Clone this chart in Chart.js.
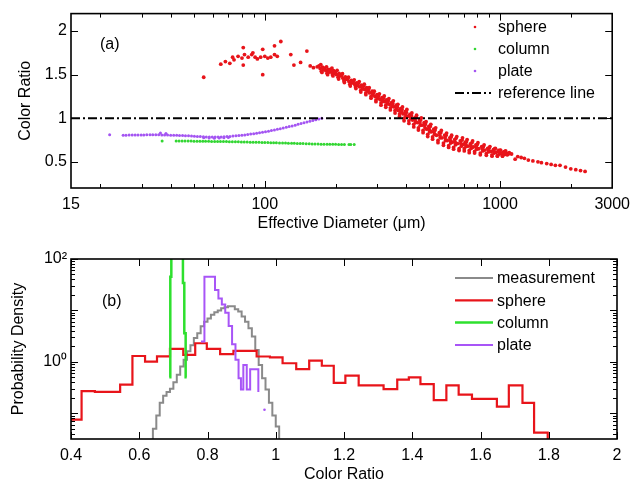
<!DOCTYPE html>
<html>
<head>
<meta charset="utf-8">
<script src="https://cdn.jsdelivr.net/npm/chart.js@4.4.1/dist/chart.umd.min.js"></script>
<style>
  html, body { margin: 0; padding: 0; background: #fff; }
  #wrap { position: relative; width: 637px; height: 485px; }
  canvas { position: absolute; left: 0; }
  #chartA { top: 0; }
  #chartB { top: 240px; }
</style>
</head>
<body>
<div id="wrap">
  <canvas id="chartA" width="637" height="240"></canvas>
  <canvas id="chartB" width="637" height="245"></canvas>
</div>
<script>
// ---- panel (a): colour ratio vs effective diameter ----
// sphere: scattered small sizes, the dense band, the sparse tail, then the band's outer scatter
const sphereDiam = [
  55, 65, 68, 71, 73, 74, 77, 80, 81, 82, 81, 85, 88, 89, 91, 93, 96, 98, 100, 98,
  103, 106, 110, 110, 113, 117, 129, 133, 142, 151, 156, 161, 167,
  170, 172, 174, 176, 178,   180, 182, 184, 186, 188,   190, 192, 194, 196, 198,
  200, 202, 205, 207, 210,   212, 215, 217, 220, 222,   225, 228, 230, 233, 236,
  238, 241, 243, 246, 248,   250, 253, 256, 258, 261,   263, 266, 269, 271, 274,
  276, 279, 283, 286, 288,   290, 294, 297, 300, 303,   305, 309, 312, 315, 318,
  320, 324, 327, 330, 333,   335, 339, 342, 346, 348,   350, 354, 358, 362, 364,
  366, 370, 374, 378, 381,   383, 387, 391, 395, 398,   400, 405, 410, 414, 418,
  420, 425, 430, 434, 438,   440, 445, 450, 455, 458,   460, 466, 471, 476, 480,
  482, 488, 493, 498, 502,   505, 511, 517, 523, 527,   530, 537, 545, 552, 557,
  560, 567, 575, 582, 587,   590, 597, 605, 612, 617,   620, 627, 635, 642, 647,
  650, 660, 670, 678, 685,   690, 697, 705, 712, 717,   720, 730, 740, 748, 755,
  760, 770, 780, 790, 796,   800, 812, 825, 836, 845,   850, 862, 875, 887, 895,
  900, 912, 925, 937, 945,   950, 962, 975, 987, 995,   1000, 1012, 1025, 1037, 1045,
  1050, 1065, 1080, 1095,
  1120, 1160, 1190, 1230, 1270, 1320, 1380, 1450, 1500, 1580, 1650, 1720, 1800, 1900, 2000, 2100, 2200, 2300,
  173, 175, 177,   183, 185, 187,   193, 195, 197,   203, 206, 208,   214, 218, 221,   227, 231, 234,
  240, 244, 247,   252, 256, 259,   265, 269, 272,   278, 283, 287,   292, 297, 301,   307, 312, 316,
  322, 327, 331,   337, 342, 347,   352, 358, 363,   368, 374, 380,   385, 391, 397,   402, 410, 416,
  422, 430, 436,   442, 450, 456,   463, 471, 478,   485, 493, 500,   508, 517, 525,   533, 545, 555,
  563, 575, 585,   593, 605, 615,   623, 635, 645,   655, 670, 682,   693, 705, 715,   725, 740, 752,
  765, 780, 793,   806, 825, 840,   856, 875, 890,   906, 925, 940,   956, 975, 990,   1006, 1025, 1040,
  1057, 1072, 1090
];
const sphereRatio = [
  1.47, 1.62, 1.65, 1.63, 1.70, 1.67, 1.71, 1.69, 1.81, 1.73, 1.61, 1.70, 1.73, 1.75, 1.70, 1.68, 1.70, 1.79, 1.71, 1.50,
  1.69, 1.70, 1.83, 1.73, 1.71, 1.88, 1.73, 1.61, 1.64, 1.77, 1.60, 1.58, 1.59,
  1.60, 1.57, 1.54, 1.585, 1.555,   1.575, 1.545, 1.515, 1.56, 1.53,   1.56, 1.53, 1.50, 1.545, 1.515,
  1.53, 1.50, 1.47, 1.515, 1.485,   1.49, 1.46, 1.43, 1.475, 1.445,   1.45, 1.42, 1.39, 1.435, 1.405,
  1.42, 1.39, 1.36, 1.405, 1.375,   1.40, 1.36, 1.32, 1.38, 1.34,     1.37, 1.33, 1.29, 1.35, 1.31,
  1.33, 1.29, 1.25, 1.31, 1.27,     1.29, 1.25, 1.21, 1.27, 1.23,     1.255, 1.215, 1.175, 1.235, 1.195,
  1.23, 1.19, 1.15, 1.21, 1.17,     1.20, 1.16, 1.12, 1.18, 1.14,     1.17, 1.13, 1.09, 1.15, 1.11,
  1.13, 1.09, 1.05, 1.11, 1.07,     1.10, 1.05, 1.00, 1.075, 1.025,   1.07, 1.02, 0.97, 1.045, 0.995,
  1.03, 0.98, 0.93, 1.005, 0.955,   1.01, 0.95, 0.89, 0.98, 0.92,     0.98, 0.92, 0.86, 0.95, 0.89,
  0.935, 0.875, 0.815, 0.905, 0.845, 0.905, 0.845, 0.785, 0.875, 0.815, 0.865, 0.805, 0.745, 0.835, 0.775,
  0.835, 0.775, 0.715, 0.805, 0.745, 0.805, 0.745, 0.685, 0.775, 0.715, 0.785, 0.725, 0.665, 0.755, 0.695,
  0.77, 0.71, 0.65, 0.74, 0.68,     0.75, 0.70, 0.65, 0.725, 0.675,   0.73, 0.68, 0.63, 0.705, 0.655,
  0.72, 0.67, 0.62, 0.695, 0.645,   0.70, 0.65, 0.60, 0.675, 0.625,   0.675, 0.635, 0.595, 0.655, 0.615,
  0.66, 0.62, 0.58, 0.64, 0.60,     0.65, 0.61, 0.57, 0.63, 0.59,     0.63, 0.60, 0.57, 0.615, 0.585,
  0.62, 0.60, 0.585, 0.605,
  0.59, 0.53, 0.56, 0.55, 0.54, 0.52, 0.51, 0.50, 0.49, 0.48, 0.47, 0.46, 0.46, 0.44, 0.42, 0.41, 0.40, 0.39,
  1.615, 1.525, 1.57,   1.59, 1.50, 1.54,   1.575, 1.485, 1.53,   1.55, 1.45, 1.50,   1.51, 1.41, 1.465,   1.47, 1.37, 1.42,
  1.44, 1.34, 1.39,     1.42, 1.30, 1.355,  1.39, 1.27, 1.33,     1.35, 1.23, 1.29,   1.31, 1.19, 1.25,    1.28, 1.15, 1.215,
  1.255, 1.125, 1.19,   1.225, 1.095, 1.16, 1.20, 1.06, 1.13,     1.16, 1.02, 1.09,   1.13, 0.97, 1.05,    1.10, 0.94, 1.02,
  1.06, 0.90, 0.98,     1.035, 0.865, 0.95, 1.005, 0.835, 0.92,   0.96, 0.79, 0.875,  0.93, 0.76, 0.845,   0.89, 0.72, 0.805,
  0.86, 0.69, 0.775,    0.83, 0.665, 0.745, 0.805, 0.645, 0.725,  0.79, 0.63, 0.71,   0.775, 0.625, 0.70,  0.755, 0.605, 0.68,
  0.74, 0.60, 0.67,     0.72, 0.58, 0.65,   0.695, 0.575, 0.635,  0.675, 0.565, 0.62, 0.655, 0.565, 0.61, 0.635, 0.565, 0.60,
  0.625, 0.58, 0.595
];
const columnDiam = [
  36.6,
  42, 43.2, 44.5, 45.8, 47.2, 48.6, 50, 51.5, 53, 54.5, 56, 57.7, 59.4, 61.2, 63, 64.8, 66.7, 68.7, 70.7, 72.8,
  75, 77.2, 79.5, 81.8, 84.2, 86.7, 89.2, 91.8, 94.5, 97.3, 100, 103, 106, 109, 112, 115.5, 119, 122.5, 126, 130,
  133.5, 137.5, 141.5, 145.5, 150, 154.5, 159, 163.5, 168.5, 173.5, 178.5, 184, 189, 194.5, 200, 206, 212, 218,
  228, 232, 240
];
const columnRatio = [
  0.740,
  0.740, 0.740, 0.739, 0.739, 0.738, 0.738, 0.737, 0.737, 0.736, 0.736, 0.735, 0.735, 0.734, 0.734, 0.733, 0.733, 0.732, 0.732, 0.731, 0.730,
  0.730, 0.729, 0.728, 0.728, 0.727, 0.726, 0.725, 0.725, 0.724, 0.723, 0.722, 0.721, 0.720, 0.719, 0.718, 0.717, 0.716, 0.715, 0.714, 0.713,
  0.712, 0.711, 0.710, 0.709, 0.708, 0.707, 0.706, 0.705, 0.704, 0.703, 0.703, 0.702, 0.702, 0.701, 0.701, 0.700, 0.700, 0.700,
  0.700, 0.700, 0.700
];
const plateDiam = [
  21.9, 36, 38,
  25, 25.7, 26.5, 27.3, 28.1, 28.9, 29.8, 30.6, 31.5, 32.5, 33.4, 34.4, 35.4, 36.5, 37.5, 38.6, 39.8, 41, 42.2, 43.4,
  44.7, 46, 47.4, 48.8, 50.2, 51.7, 53.2, 54.8, 56.4, 58.1, 59.8, 61.5, 63.3, 65.2, 67.1, 69.1, 71.1, 73.2, 75.4, 77.6,
  79.9, 82.2, 84.6, 87.1, 89.7, 92.3, 95, 97.8, 100.7, 103.7, 106.7, 109.9, 113.1, 116.4, 119.8, 123.4, 127, 130.7,
  134.6, 138.5, 142.6, 146.8, 151.1, 155.5, 160.1, 164.8, 169.7, 174.7,
  55, 58, 61, 64, 67, 70
];
const plateRatio = [
  0.810, 0.830, 0.825,
  0.806, 0.806, 0.807, 0.807, 0.808, 0.808, 0.809, 0.809, 0.810, 0.810, 0.810, 0.810, 0.810, 0.809, 0.808, 0.807, 0.806, 0.805, 0.804, 0.803,
  0.802, 0.800, 0.798, 0.796, 0.794, 0.792, 0.790, 0.788, 0.786, 0.785, 0.784, 0.784, 0.785, 0.786, 0.788, 0.790, 0.792, 0.795, 0.798, 0.801,
  0.805, 0.809, 0.813, 0.818, 0.823, 0.828, 0.834, 0.840, 0.846, 0.852, 0.859, 0.866, 0.873, 0.880, 0.888, 0.896, 0.904, 0.912,
  0.921, 0.930, 0.939, 0.948, 0.957, 0.966, 0.975, 0.984, 0.992, 1.000,
  0.775, 0.772, 0.770, 0.772, 0.776, 0.780
];
const refRange = [15, 3000];
const refRatio = 1;

const xTicksA = [15, 100, 1000, 3000];
const xMajorA = [100, 1000];
const xMinorA = [20, 30, 40, 50, 60, 70, 80, 90, 200, 300, 400, 500, 600, 700, 800, 900, 2000];
const yTicksA = [0.5, 1, 1.5, 2];

// ---- panel (b): probability density of colour ratio (bin left edges + last right edge) ----
const measEdges = [
  0.630, 0.640, 0.650, 0.660, 0.670, 0.680, 0.690, 0.700, 0.710, 0.720, 0.730, 0.740, 0.750, 0.760, 0.770,
  0.780, 0.790, 0.800, 0.810, 0.820, 0.830, 0.840, 0.850, 0.860, 0.870, 0.880, 0.890, 0.900, 0.910, 0.920,
  0.930, 0.940, 0.950, 0.960, 0.970, 0.980, 0.990, 1.000, 1.010
];
const measDensity = [
  0.01, 0.05, 0.09, 0.16, 0.22, 0.26, 0.30, 0.40, 0.56, 0.81, 1.1, 1.6, 2.1, 2.9, 3.6,
  4.9, 6.0, 7.0, 8.2, 9.2, 10, 11, 11.5, 12, 12, 10.5, 9.5, 7.6, 6.0, 4.5,
  3.1, 1.7, 0.87, 0.48, 0.29, 0.16, 0.09, 0.055, 0.01
];
const sphereEdges = [
  0.400, 0.431, 0.470, 0.507, 0.544, 0.580, 0.617, 0.652, 0.690, 0.729,
  0.764, 0.798, 0.837, 0.876, 0.910, 0.944, 0.983, 1.020, 1.060, 1.098,
  1.135, 1.170, 1.204, 1.243, 1.280, 1.316, 1.356, 1.390, 1.424, 1.463,
  1.500, 1.536, 1.575, 1.610, 1.648, 1.683, 1.723, 1.757, 1.797
];
const sphereDensity = [
  0.075, 0.27, 0.26, 0.26, 0.36, 1.30, 1.01, 1.28, 1.78, 1.37,
  2.3, 1.78, 1.41, 1.64, 1.64, 1.27, 1.22, 0.94, 0.72, 1.06,
  0.84, 0.39, 0.54, 0.35, 0.35, 0.295, 0.45, 0.50, 0.37, 0.18,
  0.35, 0.23, 0.19, 0.19, 0.135, 0.35, 0.16, 0.042, 0.01
];
const columnEdges = [0.688, 0.691, 0.694, 0.700, 0.706, 0.712, 0.718, 0.724, 0.728, 0.732, 0.736, 0.739];
const columnDensity = [0.5, 45, 150, 200, 220, 200, 180, 120, 34, 3.6, 0.5, 0.5];
const plateEdges = [
  0.781, 0.791, 0.800, 0.811, 0.822, 0.832, 0.842, 0.852, 0.862, 0.872,
  0.882, 0.891, 0.898, 0.905, 0.915, 0.925, 0.935, 0.949
];
const plateDensity = [
  2.5, 45, 45, 45, 25, 17, 13, 9, 5, 2.2,
  1.1, 0.48, 0.29, 0.87, 0.29, 0.72, 0.72, 0.26
];
const plateStray = [0.967];
const plateStrayDensity = [0.117];

const xTicksB = [0.4, 0.6, 0.8, 1, 1.2, 1.4, 1.6, 1.8, 2];
const yTicksB = [1, 100];
const yLabelsB = ['10\u2070', '10\u00b2'];
const yMajorB = [0.1, 1, 10, 100];
const yMinorB = [0.04, 0.05, 0.06, 0.07, 0.08, 0.09, 0.2, 0.3, 0.4, 0.5, 0.6, 0.7, 0.8, 0.9,
                 2, 3, 4, 5, 6, 7, 8, 9, 20, 30, 40, 50, 60, 70, 80, 90];

const FAMILY = "'Liberation Sans', Arial, Helvetica, sans-serif";
const FONT = { family: FAMILY, size: 16 };

const pts = (xs, ys) => xs.map((x, i) => ({ x, y: ys[i] }));

// inward tick marks on all four sides plus the frame
const boxTicks = {
  id: 'boxTicks',
  afterDraw(chart, args, o) {
    const { ctx, chartArea: a, scales: { x, y } } = chart;
    ctx.save();
    ctx.strokeStyle = '#000';
    ctx.lineWidth = 1;
    ctx.beginPath();
    const xm = (vals, len) => vals.forEach(v => {
      const p = Math.round(x.getPixelForValue(v)) + 0.5;
      ctx.moveTo(p, a.bottom); ctx.lineTo(p, a.bottom - len);
      ctx.moveTo(p, a.top); ctx.lineTo(p, a.top + len);
    });
    const ym = (vals, len) => vals.forEach(v => {
      const p = Math.round(y.getPixelForValue(v)) + 0.5;
      ctx.moveTo(a.left, p); ctx.lineTo(a.left + len, p);
      ctx.moveTo(a.right, p); ctx.lineTo(a.right - len, p);
    });
    xm(o.xMajor || [], 7); xm(o.xMinor || [], 4);
    ym(o.yMajor || [], 7); ym(o.yMinor || [], 4);
    ctx.stroke();
    ctx.lineWidth = 1.6;
    ctx.strokeRect(a.left, a.top, a.right - a.left, a.bottom - a.top);
    ctx.restore();
  }
};

// legend drawn inside the plot, plus the panel tag
const insideLegend = {
  id: 'insideLegend',
  afterDraw(chart, args, o) {
    const { ctx } = chart;
    ctx.save();
    ctx.font = '16px ' + FAMILY;
    ctx.textBaseline = 'middle';
    ctx.fillStyle = '#000';
    ctx.fillText(o.panel, o.panelX, o.panelY);
    let yy = o.top;
    chart.data.datasets.forEach(ds => {
      if (!ds.legendMark) return;
      if (ds.legendMark === 'dot') {
        ctx.fillStyle = ds.backgroundColor;
        ctx.beginPath();
        ctx.arc(o.dotX, yy, 1.3, 0, Math.PI * 2);
        ctx.fill();
      } else {
        ctx.strokeStyle = ds.borderColor;
        ctx.lineWidth = ds.borderWidth;
        ctx.setLineDash(ds.borderDash || []);
        ctx.beginPath();
        ctx.moveTo(o.lineX0, yy); ctx.lineTo(o.lineX1, yy);
        ctx.stroke();
        ctx.setLineDash([]);
      }
      ctx.fillStyle = '#000';
      ctx.fillText(ds.label, o.textX, yy + 1);
      yy += o.step;
    });
    ctx.restore();
  }
};

const axisText = { color: '#000', font: FONT };

new Chart(document.getElementById('chartA'), {
  type: 'scatter',
  data: {
    datasets: [
      { label: 'sphere', data: pts(sphereDiam, sphereRatio), backgroundColor: '#e8141a', borderWidth: 0, pointRadius: 1.9, order: 4, legendMark: 'dot' },
      { label: 'column', data: pts(columnDiam, columnRatio), backgroundColor: '#33d633', borderWidth: 0, pointRadius: 1.5, order: 3, legendMark: 'dot' },
      { label: 'plate', data: pts(plateDiam, plateRatio), backgroundColor: '#a455f2', borderWidth: 0, pointRadius: 1.5, order: 2, legendMark: 'dot' },
      { type: 'line', label: 'reference line', data: refRange.map(x => ({ x, y: refRatio })), borderColor: '#000', borderWidth: 2.2, borderDash: [9, 3, 2, 3], pointRadius: 0, showLine: true, order: 1, legendMark: 'line' }
    ]
  },
  options: {
    responsive: false, animation: false, devicePixelRatio: 1, events: [],
    layout: { padding: { left: 0, right: 21, top: 7, bottom: 0 } },
    plugins: {
      legend: { display: false }, tooltip: { enabled: false },
      boxTicks: { xMajor: xMajorA, xMinor: xMinorA, yMajor: yTicksA },
      insideLegend: { panel: '(a)', panelX: 100, panelY: 45, top: 27, step: 22, dotX: 475, lineX0: 455, lineX1: 491, textX: 498 }
    },
    scales: {
      x: {
        type: 'logarithmic', min: 15, max: 3000,
        afterBuildTicks: s => { s.ticks = xTicksA.map(v => ({ value: v })); },
        afterFit: s => { s.height = 52; },
        grid: { display: false, drawTicks: false }, border: { display: false },
        ticks: { ...axisText, padding: 7, autoSkip: false, maxRotation: 0, callback: v => String(v) },
        title: { display: true, text: 'Effective Diameter (\u03bcm)', ...axisText, padding: { top: 0, bottom: 7 } }
      },
      y: {
        min: 0.2, max: 2.2,
        afterBuildTicks: s => { s.ticks = yTicksA.map(v => ({ value: v })); },
        afterFit: s => { s.width = 71; },
        grid: { display: false, drawTicks: false }, border: { display: false },
        ticks: { ...axisText, padding: 4, callback: v => String(v) },
        title: { display: true, text: 'Color Ratio', ...axisText, padding: { top: 16, bottom: 0 } }
      }
    }
  },
  plugins: [boxTicks, insideLegend]
});

const hist = (label, edges, dens, color, width, order) => ({
  type: 'line', label, data: pts(edges, dens), borderColor: color, borderWidth: width,
  stepped: 'before', pointRadius: 0, fill: false, order, legendMark: 'line'
});

new Chart(document.getElementById('chartB'), {
  type: 'line',
  data: {
    datasets: [
      hist('measurement', measEdges, measDensity, '#8a8a8a', 2, 5),
      hist('sphere', sphereEdges, sphereDensity, '#e8141a', 2.2, 4),
      hist('column', columnEdges, columnDensity, '#2ee02e', 2.5, 3),
      hist('plate', plateEdges, plateDensity, '#a855f7', 2, 2),
      { type: 'scatter', data: pts(plateStray, plateStrayDensity), backgroundColor: '#a855f7', borderWidth: 0, pointRadius: 1.3, order: 1 }
    ]
  },
  options: {
    responsive: false, animation: false, devicePixelRatio: 1, events: [],
    layout: { padding: { left: 0, right: 20, top: 19, bottom: 0 } },
    plugins: {
      legend: { display: false }, tooltip: { enabled: false },
      boxTicks: { xMajor: xTicksB, yMajor: yMajorB, yMinor: yMinorB },
      insideLegend: { panel: '(b)', panelX: 102, panelY: 62, top: 38, step: 22.3, dotX: 475, lineX0: 455, lineX1: 493, textX: 497 }
    },
    scales: {
      x: {
        type: 'linear', min: 0.4, max: 2,
        afterBuildTicks: s => { s.ticks = xTicksB.map(v => ({ value: v })); },
        afterFit: s => { s.height = 46; },
        grid: { display: false, drawTicks: false }, border: { display: false },
        ticks: { ...axisText, padding: 7, autoSkip: false, maxRotation: 0, callback: v => String(v) },
        title: { display: true, text: 'Color Ratio', ...axisText, padding: { top: 0, bottom: 1 } }
      },
      y: {
        type: 'logarithmic', min: 0.0316, max: 100,
        afterBuildTicks: s => { s.ticks = yTicksB.map(v => ({ value: v })); },
        afterFit: s => { s.width = 71; },
        grid: { display: false, drawTicks: false }, border: { display: false },
        ticks: { ...axisText, padding: 4, callback: v => yLabelsB[yTicksB.indexOf(v)] },
        title: { display: true, text: 'Probability Density', ...axisText, padding: { top: 9, bottom: 0 } }
      }
    }
  },
  plugins: [boxTicks, insideLegend]
});
</script>
</body>
</html>
